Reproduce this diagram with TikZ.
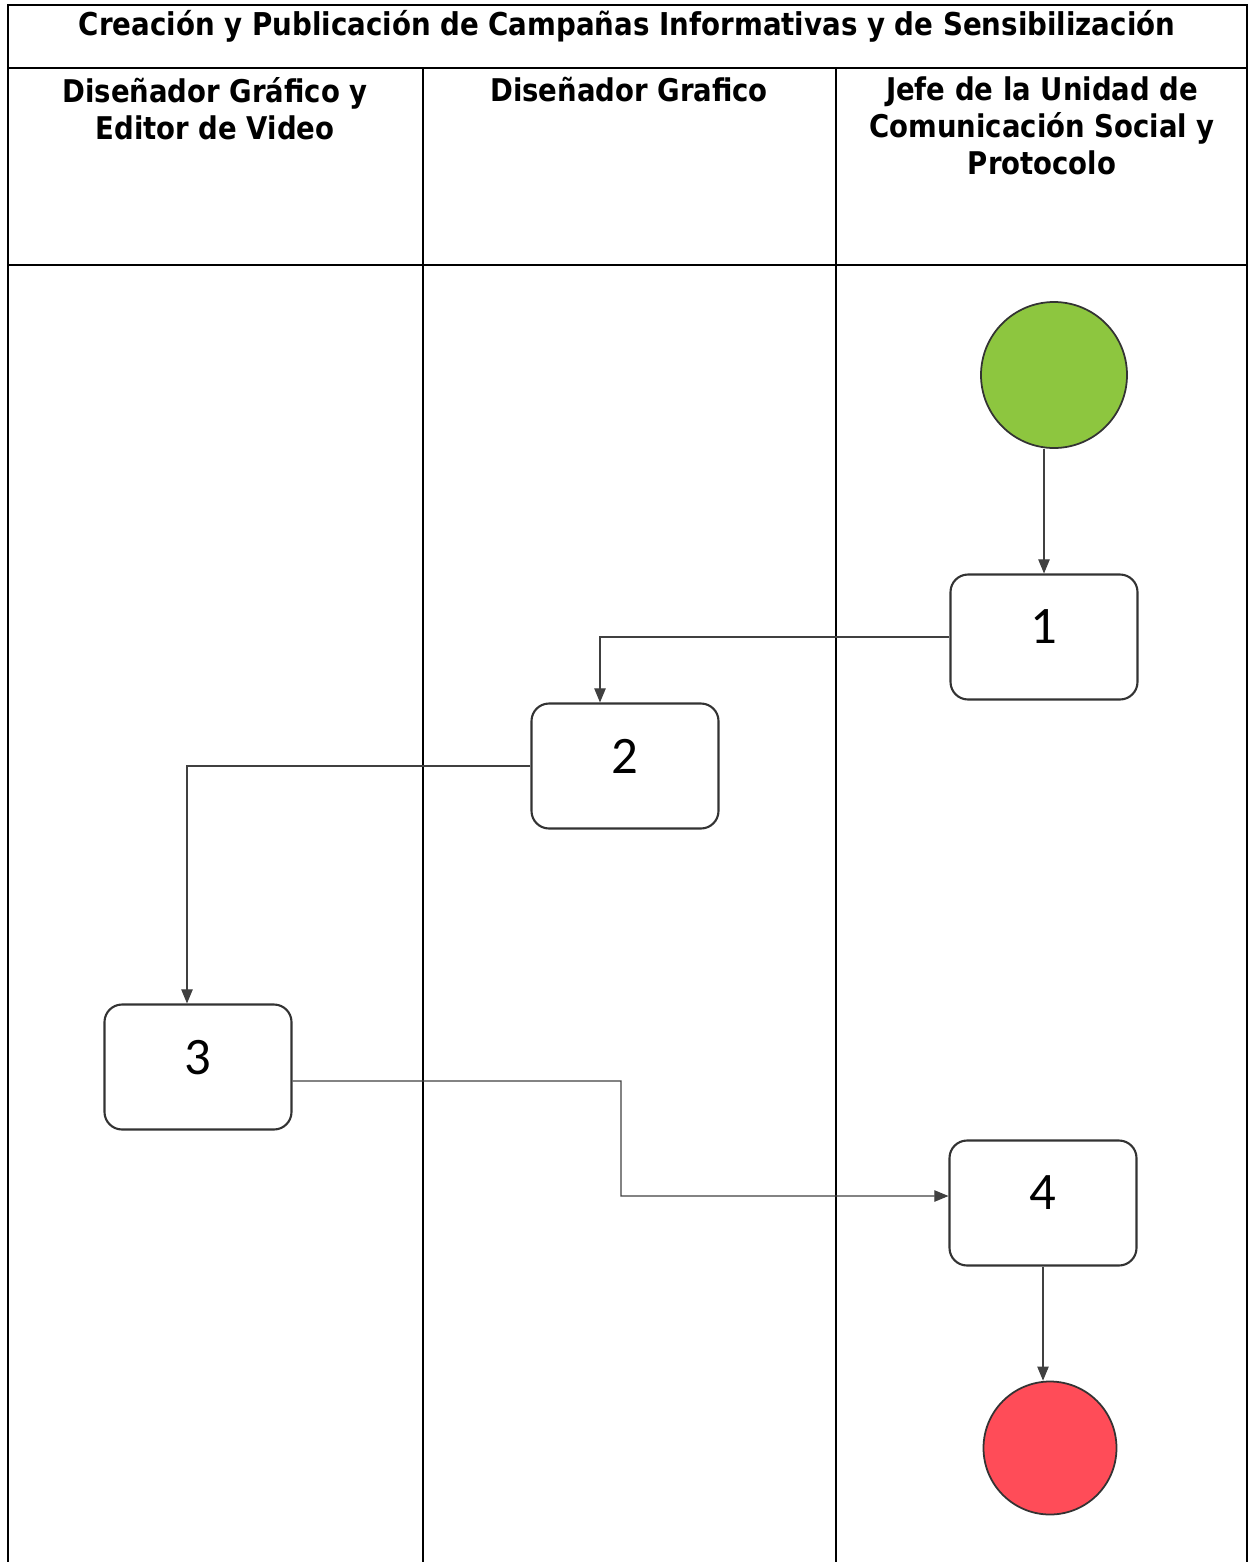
\documentclass[tikz,border=0pt]{standalone}
\usepackage{fontspec}
\setmainfont{DejaVu Sans}[FakeStretch=0.88]
\newfontfamily\numfont{Carlito}
\usetikzlibrary{arrows.meta}
\definecolor{verdeini}{RGB}{141,198,63}
\definecolor{rojofin}{RGB}{255,76,88}

\begin{document}
\begin{tikzpicture}[x=0.2mm,y=-0.2mm,
		paso/.style={draw=black!80,line width=1.2pt,rounded corners=10pt,minimum width=37.4mm,minimum height=25mm,inner sep=0pt,text depth=4mm,font=\numfont\fontsize{30}{30}\selectfont},
		evento/.style={circle,draw=black!80,line width=1pt,minimum size=#1},
		flecha/.style={draw=black!75,line width=0.6pt,-{Triangle[length=8pt,width=6.5pt]}},
		carril/.style={font=\bfseries\fontsize{17.8}{21}\selectfont,align=center,anchor=north}]
	\useasboundingbox (0,0) rectangle (1250,1562);

	\draw [line width=1.2pt] (8,1562) -- (8,5) -- (1247,5) -- (1247,1562);
	\draw [line width=1.2pt] (8,68) -- (1247,68);
	\draw [line width=1.2pt] (8,265) -- (1247,265);
	\draw [line width=1.2pt] (423,68) -- (423,1562);
	\draw [line width=1.2pt] (836,68) -- (836,1562);

	\node [font=\bfseries\fontsize{17.9}{20}\selectfont] (titulo) at (627,26) {Creación y Publicación de Campañas Informativas y de Sensibilización};
	\node [carril] (col1) at (215,71) {Diseñador Gráfico y\\Editor de Video};
	\node [carril] (col2) at (629,71) {Diseñador Grafico};
	\node [carril] (col3) at (1042,71) {Jefe de la Unidad de\\Comunicación Social y\\Protocolo};

	\node [evento=29.2mm,fill=verdeini] (ini) at (1054,375) {};
	\node [paso] (p1) at (1044,637) {1};
	\node [paso] (p2) at (625,766) {2};
	\node [paso] (p3) at (198,1067) {3};
	\node [paso] (p4) at (1043,1203) {4};
	\node [evento=26.6mm,fill=rojofin] (fin) at (1050,1448) {};

	\coordinate (codo) at (621,1196);

	\draw [flecha] (ini.south -| p1.north) -- (p1.north);
	\draw [flecha] (p1.west) -| ([xshift=-5mm]p2.north);
	\draw [flecha] (p2.west) -| ([xshift=-2.2mm]p3.north);
	\draw [flecha] ([yshift=-2.8mm]p3.east) -| (codo) -- ([yshift=1.4mm]p4.west);
	\draw [flecha] (p4.south) -- (p4.south |- fin.north);
\end{tikzpicture}
\end{document}
